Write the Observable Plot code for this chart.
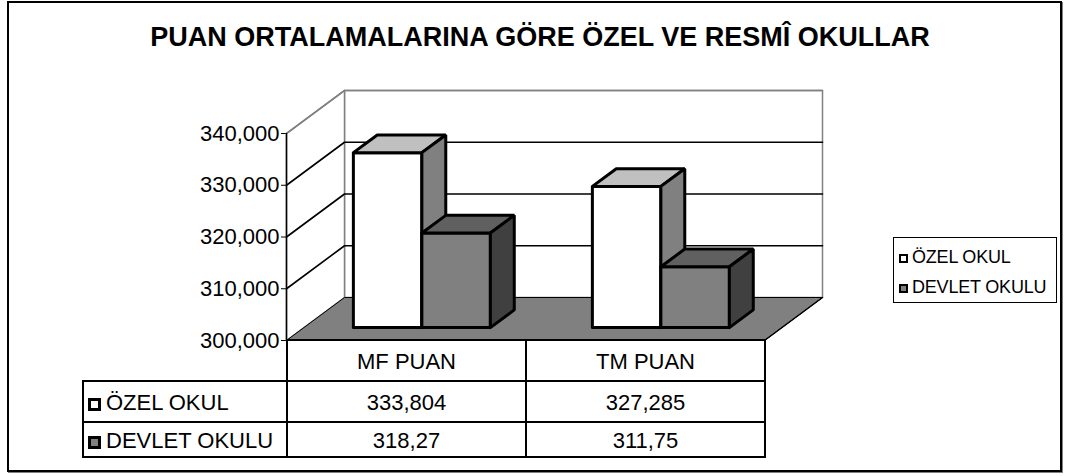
<!DOCTYPE html>
<html><head><meta charset="utf-8">
<script src="https://cdn.jsdelivr.net/npm/d3@7"></script>
<script src="https://cdn.jsdelivr.net/npm/@observablehq/plot@0.6"></script>
<style>
body{margin:0;background:#fff;font-family:"Liberation Sans",Arial,sans-serif;color:#000}
#wrap{position:relative;width:1066px;height:476px;overflow:hidden;background:#fff}
#border{position:absolute;left:7px;top:1px;width:1051px;height:467px;border:2px solid #000;box-shadow:1px 1px 0 #808080;pointer-events:none}
#title{position:absolute;left:0;width:1080px;top:22px;text-align:center;font-weight:bold;font-size:27px;white-space:nowrap}
#chart{position:absolute;left:0;top:0}
#tbl{position:absolute;left:82px;top:339px;border-collapse:collapse;table-layout:fixed;font-size:22px}
#tbl td{border:2px solid #000;text-align:center;padding:2px 0 0 0;white-space:nowrap}
#tbl td.blank{border:none;border-right:2px solid #000;border-bottom:2px solid #000}
#tbl td.lab{text-align:left;padding-left:4px}
.sw{display:inline-block;width:7px;height:7px;border:3.5px solid #000;margin-right:5px;vertical-align:-1px}
#legend{position:absolute;left:893px;top:237px;width:162px;height:64px;border:1.5px solid #000;font-size:18px;letter-spacing:-0.2px}
#legend .item{position:absolute;left:5px;white-space:nowrap}
#legend .sw{width:5px;height:5px;border-width:2.5px;margin-right:4px;vertical-align:0px}
</style></head>
<body>
<div id="wrap">
  <div id="chart"></div>
  <div id="title"></div>
  <table id="tbl"></table>
  <div id="legend"></div>
  <div id="border"></div>
</div>
<script>
// ---- data ----
const titleText = "PUAN ORTALAMALARINA GÖRE ÖZEL VE RESMÎ OKULLAR";
const categories = ["MF PUAN", "TM PUAN"];
const seriesNames = ["ÖZEL OKUL", "DEVLET OKULU"];
const ozelOkul = [333.804, 327.285];
const devletOkulu = [318.27, 311.75];
const yTicks = [300, 310, 320, 330, 340];

// ---- styles ----
const seriesColors = [
  {front: "#ffffff", top: "#c0c0c0", side: "#808080"},
  {front: "#808080", top: "#606060", side: "#404040"}
];
const series = [ozelOkul, devletOkulu];
const fmtVal = v => String(v).replace(".", ",");
const fmtTick = t => d3.format(".3f")(t).replace(".", ",");

// 3D projection in data units (depth 0 = front, 1 = back)
const DX = 0.2427, DY = 8.309;
const D0 = 0.30, D1 = 0.712;
const GAP = 0.207, BW = 0.2866;
const yMin = yTicks[0], yMax = yTicks[yTicks.length - 1];
const nCat = categories.length;
const P = (x, v, d) => ({x: x + DX * d, y: v + DY * d});
const poly = pts => [...pts, pts[0]];

const marks = [];
// back wall & side wall
marks.push(Plot.line(poly([P(0, yMin, 1), P(nCat, yMin, 1), P(nCat, yMax, 1), P(0, yMax, 1)]), {x: "x", y: "y", fill: "#fff", stroke: "#808080", strokeWidth: 1.5}));
marks.push(Plot.line(poly([P(0, yMin, 0), P(0, yMin, 1), P(0, yMax, 1), P(0, yMax, 0)]), {x: "x", y: "y", fill: "#fff", stroke: "#808080", strokeWidth: 1.5}));
// floor
marks.push(Plot.line(poly([P(0, yMin, 0), P(nCat, yMin, 0), P(nCat, yMin, 1), P(0, yMin, 1)]), {x: "x", y: "y", fill: "#808080", stroke: "#000", strokeWidth: 1}));
// gridlines
for (const t of yTicks.slice(1)) {
  marks.push(Plot.line([P(0, t, 0), P(0, t, 1), P(nCat, t, 1)], {x: "x", y: "y", stroke: t === yMax ? "#808080" : "#000", strokeWidth: 1.6, strokeLinejoin: "miter"}));
}
// bars (drawn left to right)
for (let c = 0; c < nCat; c++) {
  for (let s = 0; s < series.length; s++) {
    const v = series[s][c];
    const x0 = c + GAP + s * BW, x1 = x0 + BW;
    const col = seriesColors[s];
    const opts = f => ({x: "x", y: "y", fill: f, stroke: "#000", strokeWidth: 3, strokeLinejoin: "miter"});
    marks.push(Plot.line(poly([P(x0, yMin, D0), P(x1, yMin, D0), P(x1, v, D0), P(x0, v, D0)]), opts(col.front)));
    marks.push(Plot.line(poly([P(x0, v, D0), P(x1, v, D0), P(x1, v, D1), P(x0, v, D1)]), opts(col.top)));
    marks.push(Plot.line(poly([P(x1, yMin, D0), P(x1, yMin, D1), P(x1, v, D1), P(x1, v, D0)]), opts(col.side)));
  }
}
// value axis line and floor right edge
marks.push(Plot.line([P(0, yMin, 0), P(0, yMax, 0)], {x: "x", y: "y", stroke: "#000", strokeWidth: 1.5}));
marks.push(Plot.line([P(nCat, yMin, 0), P(nCat, yMin, 1)], {x: "x", y: "y", stroke: "#000", strokeWidth: 1.5}));

const chart = Plot.plot({
  width: 1066, height: 476,
  marginLeft: 286, marginRight: 302, marginTop: 133, marginBottom: 136,
  x: {domain: [0, nCat], axis: null},
  y: {domain: [yMin, yMax], ticks: yTicks, tickFormat: fmtTick, tickSize: 5, tickPadding: 2, label: null},
  style: {fontFamily: "'Liberation Sans', Arial, sans-serif", fontSize: "22px", color: "#000", background: "transparent", overflow: "visible"},
  marks
});
document.getElementById("chart").appendChild(chart);

// title
document.getElementById("title").textContent = titleText;

// data table
const tbl = document.getElementById("tbl");
const colW = [204, 239, 239];
const cg = document.createElement("colgroup");
colW.forEach(w => { const c = document.createElement("col"); c.style.width = w + "px"; cg.appendChild(c); });
tbl.appendChild(cg);
const hr = tbl.insertRow(); hr.style.height = "41px";
const b = hr.insertCell(); b.className = "blank";
categories.forEach(cat => { const td = hr.insertCell(); td.textContent = cat; });
series.forEach((vals, s) => {
  const r = tbl.insertRow(); r.style.height = s === 0 ? "41px" : "35px";
  const l = r.insertCell(); l.className = "lab";
  l.innerHTML = `<span class="sw" style="background:${seriesColors[s].front}"></span>`;
  l.appendChild(document.createTextNode(seriesNames[s]));
  vals.forEach(v => { const td = r.insertCell(); td.textContent = fmtVal(v); });
});

// legend
const lg = document.getElementById("legend");
seriesNames.forEach((n, s) => {
  const it = document.createElement("div"); it.className = "item";
  it.style.top = (s === 0 ? 9 : 39) + "px";
  it.innerHTML = `<span class="sw" style="background:${seriesColors[s].front}"></span>`;
  it.appendChild(document.createTextNode(n));
  lg.appendChild(it);
});
</script>
</body></html>
